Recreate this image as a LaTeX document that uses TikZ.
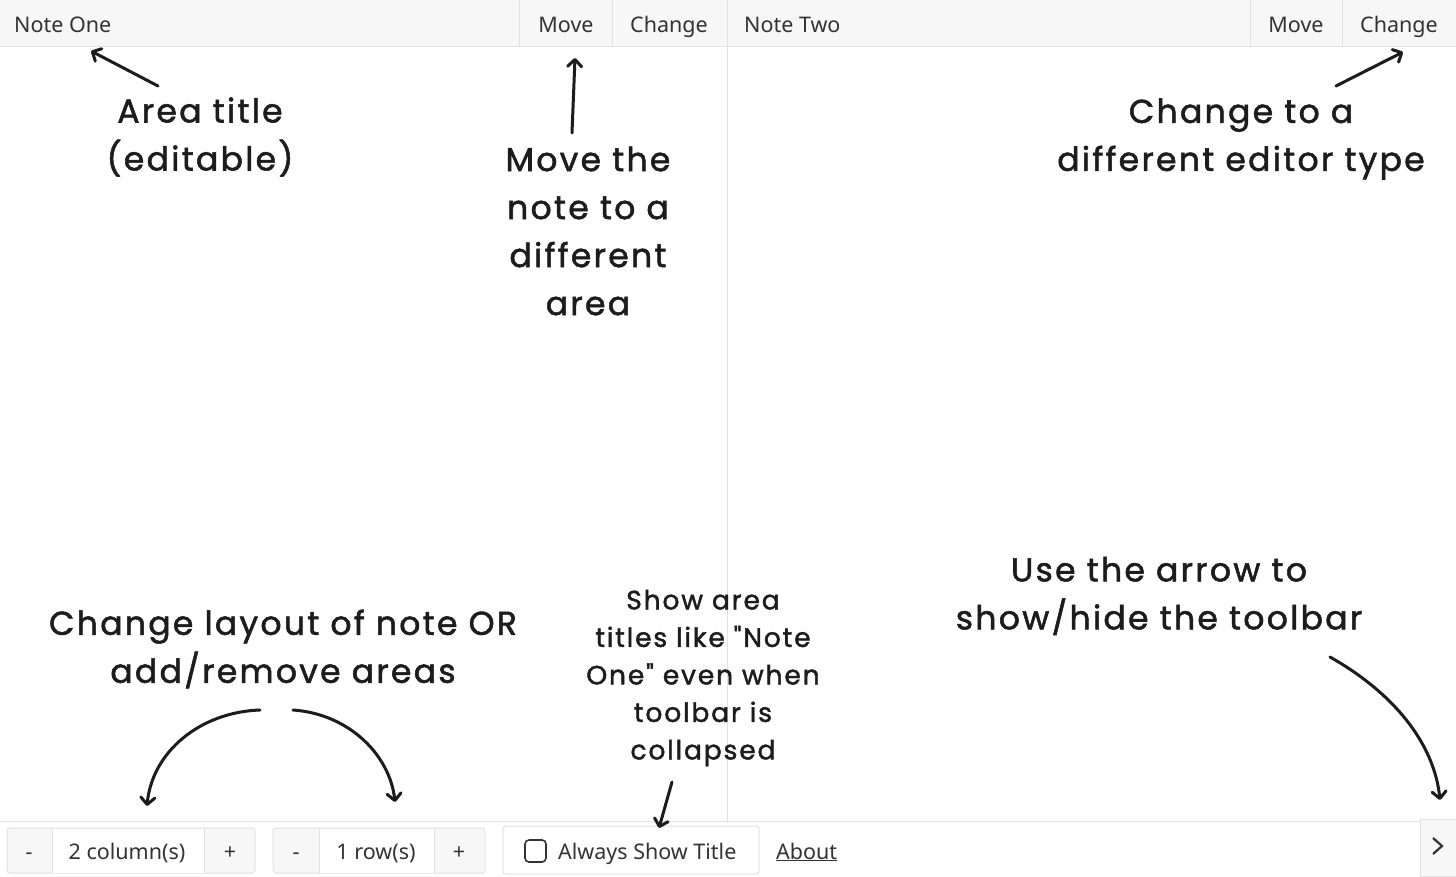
\documentclass[tikz,border=0pt]{standalone}
\usepackage{fontspec}
\setmainfont{Noto Sans}
\newfontfamily\handfont{Poppins}[LetterSpace=7,FakeBold=1.6]
\usetikzlibrary{arrows.meta}
\definecolor{barfill}{HTML}{F7F7F7}
\definecolor{barline}{HTML}{E2E2E2}
\definecolor{uitext}{HTML}{333333}
\definecolor{ink}{HTML}{1C1C1C}
\begin{document}
\begin{tikzpicture}[x=1pt,y=-1pt,
	ui/.style={font=\fontsize{21.5}{24}\selectfont,text=uitext,inner sep=0pt},
	cell/.style={draw=barline,line width=1pt},
	note/.style={font=\handfont\fontsize{33}{48}\selectfont,text=ink,align=center},
	smallnote/.style={font=\handfont\fontsize{26.5}{37.5}\selectfont,text=ink,align=center},
	pointer/.style={draw=ink,line width=3pt,line cap=round,
		-{Straight Barb[length=7pt,width=14pt,line cap=round,line join=round]}}]
	\useasboundingbox (0,0) rectangle (1456,876);
	\fill[white] (0,0) rectangle (1456,876);
	% top bar
	\fill[barfill] (0,0) rectangle (1456,46);
	\draw[barline] (0,46.5) -- (1456,46.5);
	\foreach \x in {519,612,1250,1342}
		\draw[barline] (\x,0) -- (\x,46);
	\draw[barline] (727,0) -- (727,821);
	\node[ui,anchor=base west] (noteone) at (14,32) {Note One};
	\node[ui,anchor=base] (moveone) at (566,32) {Move};
	\node[ui,anchor=base] (changeone) at (669,32) {Change};
	\node[ui,anchor=base west] (notetwo) at (744,32) {Note Two};
	\node[ui,anchor=base] (movetwo) at (1296,32) {Move};
	\node[ui,anchor=base] (changetwo) at (1399,32) {Change};
	% bottom bar
	\draw[barline] (0,821) -- (1420,821);
	\draw[cell,fill=barfill,rounded corners=3pt] (7,828) rectangle (255,873);
	\fill[white] (52,828.5) rectangle (204,872.5);
	\draw[barline] (52,828) -- (52,873) (204,828) -- (204,873);
	\node[ui,anchor=base] (colminus) at (29,859) {-};
	\node[ui,anchor=base] (colcount) at (127,859) {2 column(s)};
	\node[ui,anchor=base] (colplus) at (230,859) {+};
	\draw[cell,fill=barfill,rounded corners=3pt] (273,828) rectangle (485,873);
	\fill[white] (319,828.5) rectangle (434,872.5);
	\draw[barline] (319,828) -- (319,873) (434,828) -- (434,873);
	\node[ui,anchor=base] (rowminus) at (296,859) {-};
	\node[ui,anchor=base] (rowcount) at (376,859) {1 row(s)};
	\node[ui,anchor=base] (rowplus) at (459,859) {+};
	\draw[cell,fill=white,rounded corners=3pt] (503,826) rectangle (759,874);
	\draw[uitext,line width=1.6pt,rounded corners=4pt] (525,840) rectangle (546,862);
	\node[ui,anchor=base west] (showtitle) at (558,859) {Always Show Title};
	\node[ui,anchor=base west] (about) at (776,859) {\underline{About}};
	\draw[cell,fill=barfill] (1456,819) -- (1420,819) -- (1420,876) -- (1456,876);
	\draw[uitext,line width=2.2pt] (1433,838) -- (1442,846) -- (1433,854);
	% notes
	\node[note] (areatitle) at (200,137) {Area title\\(editable)};
	\node[note] (movenote) at (588,231) {Move the\\note to a\\different\\area};
	\node[note] (changenote) at (1241,139) {Change to a\\different editor type};
	\node[note] (layoutnote) at (283,649) {Change layout of note OR\\add/remove areas};
	\node[smallnote] (titlenote) at (703,678) {Show area\\titles like "Note\\One" even when\\toolbar is\\collapsed};
	\node[note] (togglenote) at (1159,596) {Use the arrow to\\show/hide the toolbar};
	% pointers
	\coordinate (titletail) at (158,86);
	\coordinate (titletip) at (91,51);
	\coordinate (movetail) at (572,133);
	\coordinate (movetip) at (575,58);
	\coordinate (changetail) at (1336,86);
	\coordinate (changetip) at (1403,52);
	\coordinate (colstail) at (260,710);
	\coordinate (colstip) at (147,806);
	\coordinate (rowstail) at (293,710);
	\coordinate (rowstip) at (395,802);
	\coordinate (showtail) at (672,782);
	\coordinate (showtip) at (659,828);
	\coordinate (toggletail) at (1330,657);
	\coordinate (toggletip) at (1440,800);
	\draw[pointer] (titletail) -- (titletip);
	\draw[pointer] (movetail) -- (movetip);
	\draw[pointer] (changetail) -- (changetip);
	\draw[pointer] (colstail) .. controls (200,712) and (152,752) .. (colstip);
	\draw[pointer] (rowstail) .. controls (350,714) and (390,756) .. (rowstip);
	\draw[pointer] (showtail) -- (showtip);
	\draw[pointer] (toggletail) .. controls (1392,692) and (1434,742) .. (toggletip);
\end{tikzpicture}
\end{document}
